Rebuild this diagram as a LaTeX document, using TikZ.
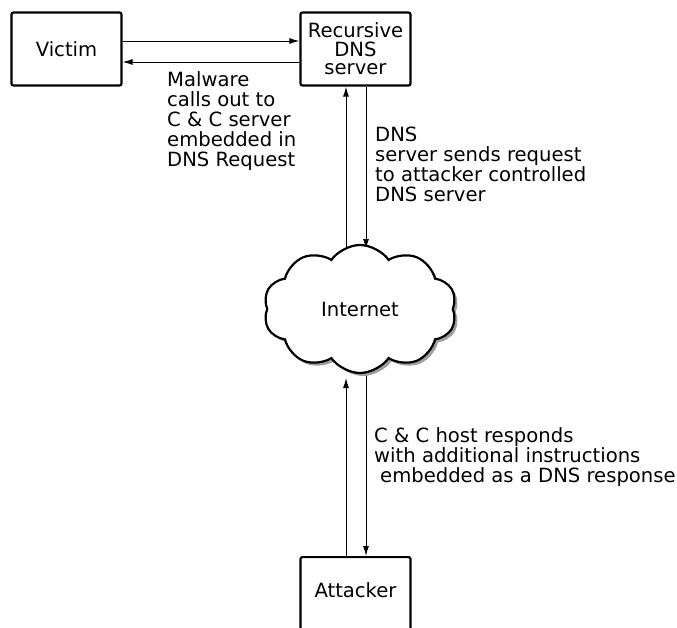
\documentclass[tikz,border=0pt]{standalone}
\usepackage{fontspec}
\setmainfont{DejaVu Sans}
\usetikzlibrary{shapes.symbols,shadows,arrows.meta}
\begin{document}
\begin{tikzpicture}[x=1pt,y=-1pt,
  txt/.style={font=\fontsize{19.6}{20}\selectfont},
  box/.style={draw, line width=2.2pt, rounded corners=2pt, fill=white, inner sep=0pt,
    align=center, minimum width=110pt, txt},
  arr/.style={line width=1pt, -{Latex[length=10pt,width=6pt]}},
  lbl/.style={align=left, anchor=base west, inner sep=0pt, txt},
  netcloud/.style={cloud, cloud puffs=10, cloud puff arc=110, aspect=1.5, draw, line width=2.2pt,
    fill=white, minimum width=193pt, minimum height=128pt, inner sep=0pt, txt,
    drop shadow={shadow xshift=3pt, shadow yshift=-3pt, fill=gray!75, opacity=1}}]
\useasboundingbox (0,0) rectangle (677,627);
\clip (0,0) rectangle (677,627);

\node[box, minimum height=73pt] (victim) at (66.5,49) {Victim};
\node[box, minimum height=73pt, font=\fontsize{19.6}{18.5}\selectfont] (dns) at (355.5,49) {Recursive\\DNS\\server};
\node[box, minimum height=90pt, anchor=north] (attacker) at (355.5,556) {};
\node[inner sep=0pt, txt] (attlabel) at (355.5,590) {Attacker};

\coordinate (ctop) at (360,250);
\coordinate (cbot) at (360,374);

\draw[arr] (victim.east |- 0,41) -- (dns.west |- 0,41);
\draw[arr] (dns.west |- 0,62) -- (victim.east |- 0,62);
\draw[arr] (ctop -| 346,0) -- (dns.south -| 346,0);
\draw[arr] (dns.south -| 366,0) -- ([yshift=1pt]ctop -| 366,0);
\draw[arr] (attacker.north -| 346,0) -- ([yshift=-4pt]cbot -| 346,0);
\draw[arr] (cbot -| 366,0) -- (attacker.north -| 366,0);

\node[netcloud] (cloud) at (360,309) {Internet};

\node[lbl] (mal) at (167,166) {Malware\\calls out to\\C \& C server\\embedded in\\DNS Request};
\node[lbl] (req) at (375,201) {DNS\\server sends request\\to attacker controlled\\DNS server};
\node[lbl] (resp) at (374,482) {C \& C host responds\\with additional instructions\\\hspace*{6pt}embedded as a DNS response};
\end{tikzpicture}
\end{document}
